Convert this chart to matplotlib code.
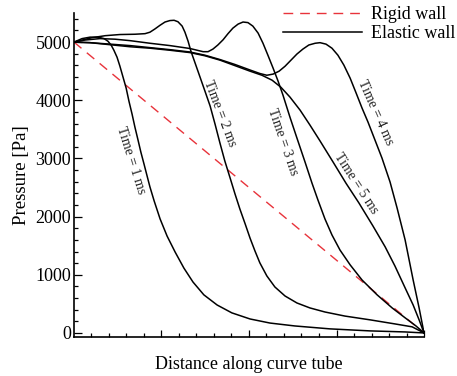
import numpy as np
import matplotlib
matplotlib.use("Agg")
import matplotlib.pyplot as plt
from matplotlib.ticker import FixedLocator, NullFormatter

plt.rcParams['font.family'] = ['Liberation Serif', 'DejaVu Serif']

# ---- data (distance normalised 0..1, pressure in Pa) ----
rigid_x = [0.0, 1.0]
rigid_p = [5000, 0]

t1_x = [0, 0.023, 0.046, 0.069, 0.086, 0.097, 0.106, 0.114, 0.123, 0.131, 0.14, 0.149,
        0.157, 0.166, 0.174, 0.183, 0.191, 0.2, 0.209, 0.217, 0.229, 0.246, 0.266, 0.289,
        0.314, 0.34, 0.371, 0.409, 0.451, 0.503, 0.56, 0.631, 0.731, 0.846, 0.946, 1.0]
t1_p = [5000, 5060, 5085, 5085, 5060, 5015, 4950, 4860, 4740, 4590, 4400, 4210,
        3985, 3760, 3540, 3315, 3110, 2905, 2695, 2510, 2270, 1960, 1665, 1390,
        1115, 875, 655, 480, 345, 240, 170, 120, 70, 35, 17, 0]

t2_x = [0, 0.023, 0.051, 0.089, 0.131, 0.174, 0.203, 0.217, 0.231, 0.246, 0.26, 0.274,
        0.286, 0.297, 0.309, 0.317, 0.326, 0.334, 0.346, 0.36, 0.374, 0.389, 0.403, 0.417,
        0.431, 0.446, 0.46, 0.474, 0.489, 0.503, 0.517, 0.531, 0.551, 0.574, 0.603, 0.637,
        0.674, 0.717, 0.774, 0.846, 0.917, 0.966, 1.0]
t2_p = [5000, 5035, 5075, 5110, 5130, 5135, 5145, 5170, 5225, 5290, 5345, 5370,
        5375, 5350, 5275, 5170, 5015, 4845, 4640, 4400, 4160, 3900, 3590, 3265,
        2955, 2665, 2390, 2130, 1875, 1630, 1410, 1205, 980, 790, 635, 515,
        430, 360, 290, 225, 155, 105, 0]

t3_x = [0, 0.031, 0.074, 0.117, 0.16, 0.217, 0.274, 0.331, 0.369, 0.383, 0.397, 0.411,
        0.426, 0.44, 0.454, 0.469, 0.483, 0.497, 0.511, 0.526, 0.54, 0.554, 0.569, 0.583,
        0.597, 0.617, 0.637, 0.66, 0.68, 0.697, 0.717, 0.737, 0.76, 0.789, 0.823, 0.866,
        0.909, 0.946, 0.977, 1.0]
t3_p = [5000, 5035, 5060, 5050, 5025, 4980, 4940, 4890, 4835, 4835, 4880, 4950,
        5040, 5145, 5240, 5310, 5345, 5335, 5275, 5155, 4980, 4775, 4550, 4330,
        4090, 3710, 3350, 2940, 2575, 2285, 1960, 1685, 1425, 1170, 910, 655,
        430, 260, 120, 0]

t4_x = [0, 0.046, 0.103, 0.16, 0.217, 0.274, 0.331, 0.374, 0.417, 0.46, 0.503, 0.531,
        0.551, 0.569, 0.586, 0.603, 0.62, 0.637, 0.654, 0.671, 0.689, 0.703, 0.72, 0.737,
        0.754, 0.771, 0.789, 0.806, 0.823, 0.84, 0.86, 0.88, 0.903, 0.923, 0.946, 0.969,
        0.986, 1.0]
t4_p = [5000, 4990, 4965, 4940, 4905, 4870, 4830, 4775, 4700, 4615, 4520, 4460,
        4430, 4450, 4500, 4585, 4690, 4795, 4880, 4950, 4980, 4990, 4965, 4895,
        4775, 4605, 4380, 4125, 3865, 3625, 3315, 3005, 2595, 2150, 1600, 910,
        430, 0]

t5_x = [0, 0.046, 0.103, 0.16, 0.217, 0.274, 0.331, 0.374, 0.417, 0.46, 0.503, 0.537,
        0.566, 0.591, 0.617, 0.646, 0.674, 0.703, 0.74, 0.777, 0.814, 0.854, 0.889, 0.917,
        0.946, 0.969, 0.986, 1.0]
t5_p = [5000, 4990, 4955, 4920, 4895, 4860, 4820, 4765, 4690, 4595, 4500, 4430,
        4345, 4225, 4055, 3830, 3575, 3300, 2940, 2575, 2235, 1840, 1480, 1150,
        775, 480, 225, 0]

curve_labels = ["Time = 1 ms", "Time = 2 ms", "Time = 3 ms", "Time = 4 ms", "Time = 5 ms"]
legend_labels = ["Rigid wall", "Elastic wall"]
x_label = "Distance along curve tube"
y_label = "Pressure [Pa]"
y_major = [0, 1000, 2000, 3000, 4000, 5000]

# ---- figure ----
fig = plt.figure(figsize=(4.57, 3.76), dpi=100)
ax = fig.add_axes([0.1619, 0.1037, 0.7659, 0.8617])

red = '#e8333b'
ln_r, = ax.plot(rigid_x, rigid_p, color=red, lw=1.0, dashes=(7, 5))
ln_e = None
for xs, ps in [(t1_x, t1_p), (t2_x, t2_p), (t3_x, t3_p), (t4_x, t4_p), (t5_x, t5_p)]:
    ln_e, = ax.plot(xs, ps, color='black', lw=1.1, solid_joinstyle='round')

ax.set_xlim(0, 1)
ax.set_ylim(-70, 5500)

for s in ['top', 'right']:
    ax.spines[s].set_visible(False)
for s in ['left', 'bottom']:
    ax.spines[s].set_linewidth(1.2)

ax.xaxis.set_major_locator(FixedLocator([0.25, 0.5, 0.75, 1.0]))
ax.xaxis.set_minor_locator(FixedLocator([i * 0.05 for i in range(1, 20) if i % 5 != 0]))
ax.xaxis.set_major_formatter(NullFormatter())
ax.yaxis.set_major_locator(FixedLocator(y_major))
ax.yaxis.set_minor_locator(FixedLocator([v for v in range(200, 5500, 200) if v % 1000 != 0]))
ax.tick_params(axis='both', which='both', direction='in', width=0.9)
ax.tick_params(axis='y', which='major', length=5.8, labelsize=13, pad=2)
ax.tick_params(axis='y', which='minor', length=3.2)
ax.tick_params(axis='x', which='major', length=5.0)
ax.tick_params(axis='x', which='minor', length=3.0)

ax.set_xlabel(x_label, fontsize=13, labelpad=10)
ax.set_ylabel(y_label, fontsize=13.5, labelpad=4)

# curve annotations (positions in data coords, rotation in degrees)
label_pos = [(0.163, 2970, -72.5), (0.417, 3780, -69), (0.597, 3280, -71),
             (0.86, 3780, -66), (0.806, 2577, -57)]
for txt, (lx, ly, rot) in zip(curve_labels, label_pos):
    ax.text(lx, ly, txt, rotation=rot, rotation_mode='anchor', ha='center', va='center',
            fontsize=10, color='#222222')

leg = fig.legend([ln_r, ln_e], legend_labels, loc='upper left',
                 bbox_to_anchor=(283 / 457, 1 - 6 / 376), frameon=False, fontsize=13,
                 handlelength=4.4, handletextpad=0.45, labelspacing=0.12,
                 borderpad=0, borderaxespad=0)

fig.savefig('out.png', dpi=100)
